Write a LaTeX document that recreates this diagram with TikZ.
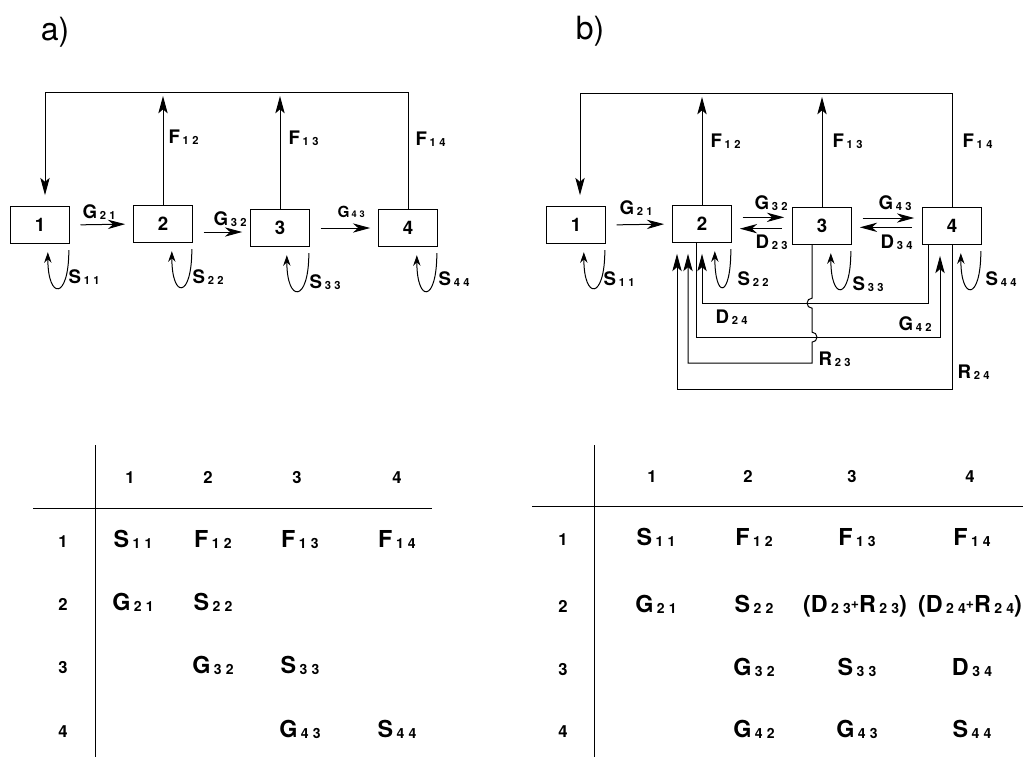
\documentclass[tikz,border=0pt]{standalone}
\usepackage{fontspec}
\setmainfont{TeX Gyre Heros}
\usepackage{graphicx}
\usetikzlibrary{arrows.meta}

% letter with a spaced double index, as in the scanned figure
\newcommand{\flw}[3]{#1\kern.15em\raisebox{-.12ex}{\scalebox{.6}{#2\kern.3em#3}}}
\newcommand{\pls}{\raisebox{.25ex}{\scalebox{.6}{+}}}

\begin{document}
\begin{tikzpicture}[x=0.75pt, y=-0.75pt, line width=0.75pt, font=\bfseries,
  box/.style={draw, minimum width=44pt, minimum height=28pt, inner sep=0pt,
    font=\fontsize{14}{14}\selectfont\bfseries},
  lab/.style={anchor=base west, inner sep=0pt, font=\fontsize{14}{14}\selectfont\bfseries},
  ent/.style={anchor=base, inner sep=0pt, font=\fontsize{17.5}{18}\selectfont\bfseries},
  hd/.style={anchor=base, inner sep=0pt, font=\fontsize{12.5}{13}\selectfont\bfseries},
  ttl/.style={inner sep=0pt, font=\fontsize{24}{24}\selectfont},
  up/.style={-{Stealth[length=13pt,width=7pt,inset=3pt]}},
  flow/.style={-{Stealth[length=13pt,width=7pt,inset=4pt]}, shorten <=8pt, shorten >=6pt},
  self/.style={-{Stealth[length=8pt,width=5.5pt]}}]
  \useasboundingbox (0,0) rectangle (1023,757);

  % ---------------- panel a ----------------
  \node[ttl] (ta) at (55,32) {a)};
  \node[box] (a1) at (40,225) {1};
  \node[box] (a2) at (163,224) {2};
  \node[box] (a3) at (280,228) {3};
  \node[box] (a4) at (408,228) {4};
  \coordinate (aTL) at (45,92);
  % fluxes back to stage 1
  \draw[up] (a4.north) |- (aTL) -- ([yshift=8pt]a1.north -| aTL);
  \draw[up, shorten >=3pt] (a2.north) -- (a2.north |- aTL);
  \draw[up, shorten >=3pt] (a3.north) -- (a3.north |- aTL);
  % growth
  \draw[flow] (a1.east) -- (a2.west);
  \draw[flow] ([yshift=-3pt]a3.west -| a2.east) -- ([yshift=-3pt]a3.west);
  \draw[flow] (a3.east) -- (a4.west);
  \node[lab] (aF12) at (168,143) {\flw{F}{1}{2}};
  \node[lab] (aF13) at (288,144) {\flw{F}{1}{3}};
  \node[lab] (aF14) at (415,145) {\flw{F}{1}{4}};
  \node[lab] (aG21) at (82,218) {\flw{G}{2}{1}};
  \node[lab] (aG32) at (213,225) {\flw{G}{3}{2}};
  \node[lab, font=\fontsize{11.5}{12}\selectfont\bfseries] (aG43) at (337,217) {\flw{G}{4}{3}};
  \node[lab] (aS11) at (68,283) {\flw{S}{1}{1}};
  \node[lab] (aS22) at (192,283) {\flw{S}{2}{2}};
  \node[lab] (aS33) at (309,288) {\flw{S}{3}{3}};
  \node[lab] (aS44) at (438,285) {\flw{S}{4}{4}};

  % ---------------- panel b ----------------
  \node[ttl] (tb) at (590,31) {b)};
  \node[box] (b1) at (576,225) {1};
  \node[box] (b2) at (702,224) {2};
  \node[box] (b3) at (822,226) {3};
  \node[box] (b4) at (952,226) {4};
  \coordinate (bTL) at (580,93);
  \draw[up] (b4.north) |- (bTL) -- ([yshift=8pt]b1.north -| bTL);
  \draw[up, shorten >=3pt] (b2.north) -- (b2.north |- bTL);
  \draw[up, shorten >=3pt] (b3.north) -- (b3.north |- bTL);
  \draw[flow] (b1.east) -- (b2.west);
  \draw[flow] ([yshift=5pt]b2.east) -- ([yshift=5pt]b2.east -| b3.west);
  \draw[flow] ([yshift=-2pt]b3.west) -- ([yshift=-2pt]b3.west -| b2.east);
  \draw[flow] ([yshift=6pt]b3.east) -- ([yshift=6pt]b3.east -| b4.west);
  \draw[flow] ([yshift=-1pt]b4.west) -- ([yshift=-1pt]b4.west -| b3.east);
  % ports under the boxes
  \coordinate (p2a) at ([xshift=-18.75pt]b2.south);
  \coordinate (p2b) at ([xshift=-10.5pt]b2.south);
  \coordinate (p2c) at ([xshift=-4.5pt]b2.south);
  \coordinate (p3) at ([xshift=-7.5pt]b3.south);
  \coordinate (p4a) at ([xshift=-18pt]b4.south);
  \coordinate (p4b) at ([xshift=-9pt]b4.south);
  \coordinate (yD) at (0,303);
  \coordinate (yG) at (0,337);
  \coordinate (yRa) at (0,363);
  \coordinate (yRb) at (0,389);
  \draw[up, shorten >=8pt] (p4a) |- (yD -| b2.south) -- (b2.south);
  \draw[up, shorten >=8pt] (p2c) |- (yG -| p4b) -- (p4b);
  \draw[up, shorten >=8pt] (p3) -- ++(0,53) arc[start angle=270, end angle=90, radius=5]
    -- ++(0,24) arc[start angle=-90, end angle=90, radius=5]
    -- (yRa -| p3) -- (yRa -| p2b) -- (p2b);
  \draw[up, shorten >=8pt] (b4.south) |- (yRb -| p2a) -- (p2a);
  \node[lab] (bF12) at (710,147) {\flw{F}{1}{2}};
  \node[lab] (bF13) at (832,147) {\flw{F}{1}{3}};
  \node[lab] (bF14) at (962,147) {\flw{F}{1}{4}};
  \node[lab] (bG21) at (619,214) {\flw{G}{2}{1}};
  \node[lab] (bG32) at (754,209) {\flw{G}{3}{2}};
  \node[lab] (bD23) at (755,248) {\flw{D}{2}{3}};
  \node[lab] (bG43) at (878,209) {\flw{G}{4}{3}};
  \node[lab] (bD34) at (880,248) {\flw{D}{3}{4}};
  \node[lab] (bS11) at (603,285) {\flw{S}{1}{1}};
  \node[lab] (bS22) at (737,285) {\flw{S}{2}{2}};
  \node[lab] (bS33) at (852,290) {\flw{S}{3}{3}};
  \node[lab] (bS44) at (985,285) {\flw{S}{4}{4}};
  \node[lab] (bD24) at (715,323) {\flw{D}{2}{4}};
  \node[lab] (bG42) at (898,330) {\flw{G}{4}{2}};
  \node[lab] (bR23) at (818,365) {\flw{R}{2}{3}};
  \node[lab] (bR24) at (957,378) {\flw{R}{2}{4}};

  % self loops (survival)
  \foreach \n/\w in {a1/21, a2/20, a3/22, a4/20, b1/21, b2/16, b3/20, b4/20}{
    \coordinate (s) at ([shift={(-1,6)}]\n.south east);
    \draw[self] (s) .. controls ([shift={(0,50)}]s) and ([shift={(-\w,50)}]s) .. ([shift={(-\w,2)}]s);
  }

  % ---------------- matrix a ----------------
  \draw[semithick] (95,445) -- (95,757);
  \draw[semithick] (33,508) -- (432,508);
  \foreach \x/\t in {130/1, 208/2, 297/3, 397/4}
    \node[hd] (hac\t) at (\x,483) {\t};
  \foreach \y/\t in {547/1, 610/2, 673/3, 737/4}
    \node[hd] (har\t) at (63,\y) {\t};
  \node[ent] (ma11) at (133,547) {\flw{S}{1}{1}};
  \node[ent] (ma12) at (213,547) {\flw{F}{1}{2}};
  \node[ent] (ma13) at (300,547) {\flw{F}{1}{3}};
  \node[ent] (ma14) at (397,547) {\flw{F}{1}{4}};
  \node[ent] (ma21) at (133,610) {\flw{G}{2}{1}};
  \node[ent] (ma22) at (213,610) {\flw{S}{2}{2}};
  \node[ent] (ma32) at (213,673) {\flw{G}{3}{2}};
  \node[ent] (ma33) at (300,673) {\flw{S}{3}{3}};
  \node[ent] (ma43) at (300,737) {\flw{G}{4}{3}};
  \node[ent] (ma44) at (397,737) {\flw{S}{4}{4}};

  % ---------------- matrix b ----------------
  \draw[semithick] (594,445) -- (594,757);
  \draw[semithick] (532,506) -- (1023,506);
  \foreach \x/\t in {652/1, 748/2, 852/3, 970/4}
    \node[hd] (hbc\t) at (\x,482) {\t};
  \foreach \y/\t in {545/1, 612/2, 675/3, 737/4}
    \node[hd] (hbr\t) at (563,\y) {\t};
  \node[ent] (mb11) at (656,545) {\flw{S}{1}{1}};
  \node[ent] (mb12) at (754,545) {\flw{F}{1}{2}};
  \node[ent] (mb13) at (857,545) {\flw{F}{1}{3}};
  \node[ent] (mb14) at (972,545) {\flw{F}{1}{4}};
  \node[ent] (mb21) at (656,612) {\flw{G}{2}{1}};
  \node[ent] (mb22) at (754,612) {\flw{S}{2}{2}};
  \node[ent] (mb23) at (855,612) {(\flw{D}{2}{3}\pls\flw{R}{2}{3})};
  \node[ent] (mb24) at (970,612) {(\flw{D}{2}{4}\pls\flw{R}{2}{4})};
  \node[ent] (mb32) at (754,675) {\flw{G}{3}{2}};
  \node[ent] (mb33) at (857,675) {\flw{S}{3}{3}};
  \node[ent] (mb34) at (972,675) {\flw{D}{3}{4}};
  \node[ent] (mb42) at (754,737) {\flw{G}{4}{2}};
  \node[ent] (mb43) at (857,737) {\flw{G}{4}{3}};
  \node[ent] (mb44) at (972,737) {\flw{S}{4}{4}};
\end{tikzpicture}
\end{document}
